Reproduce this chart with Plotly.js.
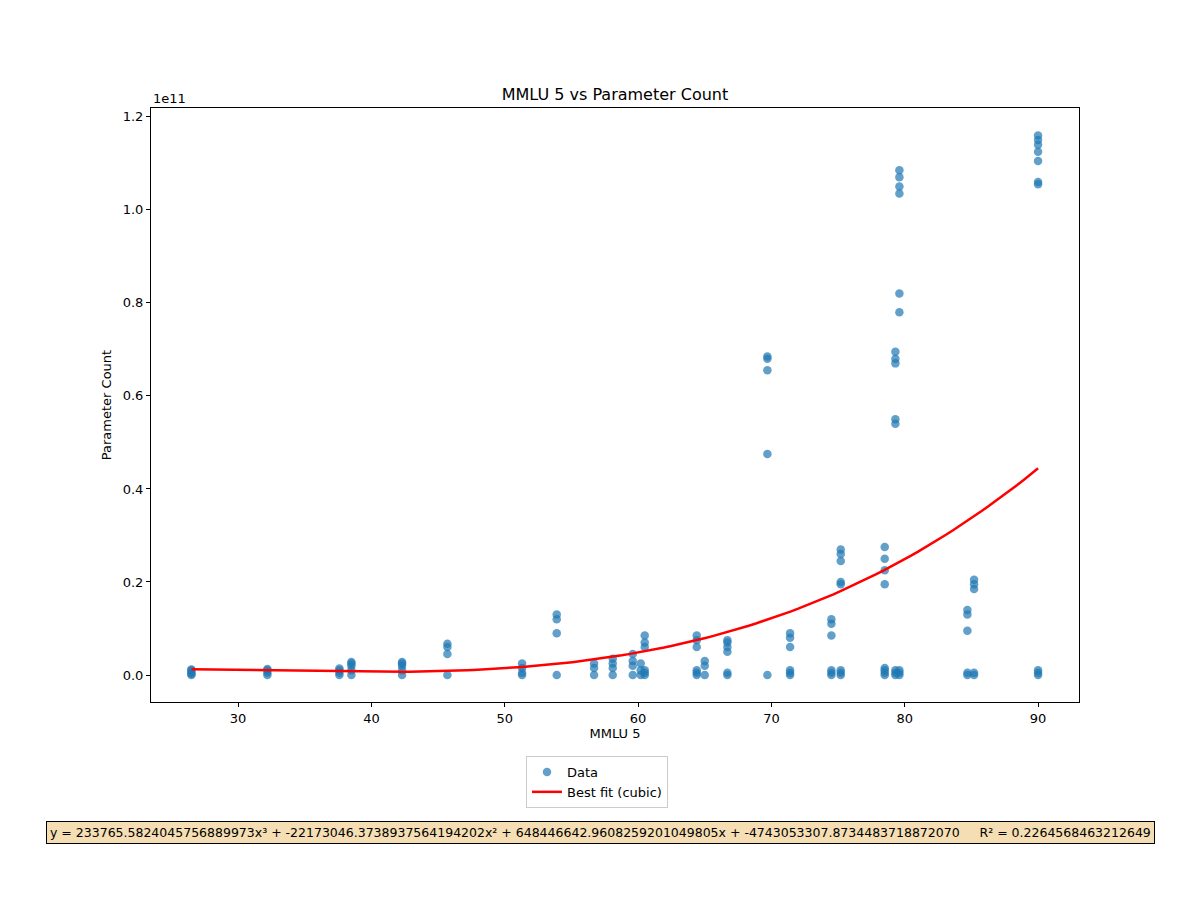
<!DOCTYPE html>
<html><head><meta charset="utf-8">
<script src="https://cdn.plot.ly/plotly-3.0.1.min.js"></script>
<style>body{margin:0;background:#fff}</style></head>
<body><div id="chart" style="width:1200px;height:900px"></div>
<script>
// MMLU 5 score of each cluster and the parameter counts (in billions) seen at that score
const mmluGroups = [26.5,32.2,37.6,38.5,42.3,45.7,51.3,53.9,56.7,58.1,59.6,60.2,60.5,64.4,65.0,66.7,69.7,71.4,74.5,75.2,78.5,79.3,79.6,84.7,85.2,90.0];
const paramGroupsB = [
 [0,0.5,1,1.2,0.3],[0,0.5,1,1.3],[0,0.5,1,1.4],[0,1,2,2.5,2.8],[0,1,2,2.5,2.8],
 [0,4.5,6,6.7],[0,0.5,1.5,2.5],[0,9,12,13],[0,1.5,2.5],[0,1.5,2.5,3.5],
 [0,2,3,4.5],[0,1,2.5],[0,0.5,1,6,7,8.5],[0,0.5,1,6,7.5,8.5],[0,2,3],
 [0,0.5,5,6,7,7.5],[0,47.5,65.5,68,68.5],[0,0.5,1,6,8,9],[0,0.5,1,8.5,11,12],
 [0,0.5,1,19.5,20,24.5,26,27],[0,0.5,1,1.5,19.5,22.5,25,27.5],[0,0.5,1,54,55,67,68,69.5],
 [0,0.5,1,78,82,103.5,105,107,108.5],[0,0.5,9.5,13,14],[0,0.5,18.5,19.5,20.5],
 [0,0.5,1,105.5,106,110.5,112.5,114,115,116]
];
// cubic fit coefficients (from the legend equation)
const fitCoeffs = [233765.5824045756889973, -22173046.3738937564194202, 648446642.9608259201049805, -4743053307.8734483718872070];
const fitRange = [26.5, 90.0];
const rSquared = "0.2264568463212649";
const yTickVals = [0,2e10,4e10,6e10,8e10,1e11,1.2e11];
const yTickText = ["0.0","0.2","0.4","0.6","0.8","1.0","1.2"];

const xs=[], ys=[];
mmluGroups.forEach((m,i)=>paramGroupsB[i].forEach(v=>{xs.push(m);ys.push(v*1e9);}));
const fx=[], fy=[];
for(let i=0;i<=120;i++){const x=fitRange[0]+(fitRange[1]-fitRange[0])*i/120;fx.push(x);
 fy.push(((fitCoeffs[0]*x+fitCoeffs[1])*x+fitCoeffs[2])*x+fitCoeffs[3]);}

const font={family:"DejaVu Sans",size:13,color:"#000"};
const eq="y = 233765.5824045756889973x³ + -22173046.3738937564194202x² + 648446642.9608259201049805x + -4743053307.8734483718872070     R² = "+rSquared;
Plotly.newPlot('chart',[
 {x:xs,y:ys,mode:'markers',type:'scatter',name:'Data',marker:{color:'#1f77b4',opacity:0.7,size:8.5}},
 {x:fx,y:fy,mode:'lines',type:'scatter',name:'Best fit (cubic)',line:{color:'red',width:2.5}}
],{
 width:1200,height:900,font:font,paper_bgcolor:'#fff',plot_bgcolor:'#fff',
 margin:{l:151,r:121,t:108,b:198,autoexpand:false},
 title:{text:'MMLU 5 vs Parameter Count',font:{family:"DejaVu Sans",size:16},x:0.5125,xanchor:'center',y:1-94/900,yanchor:'middle',yref:'container'},
 xaxis:{automargin:false,range:[23.47,93.07],tickvals:[30,40,50,60,70,80,90],showgrid:false,zeroline:false,showline:true,mirror:true,linecolor:'#000',linewidth:1,ticks:'outside',ticklen:4,tickcolor:'#000',
   title:{text:'MMLU 5',font:font,standoff:4}},
 yaxis:{automargin:false,range:[-0.58e10,12.19e10],tickvals:yTickVals,ticktext:yTickText,showgrid:false,zeroline:false,showline:true,mirror:true,linecolor:'#000',linewidth:1,ticks:'outside',ticklen:4,tickcolor:'#000',
   title:{text:'Parameter Count',font:font,standoff:8}},
 legend:{x:(597-151)/928,xanchor:'center',y:(702-756)/594,yanchor:'top',bordercolor:'#ccc',borderwidth:1,bgcolor:'#fff',font:font},
 annotations:[
  {text:'1e11',xref:'paper',yref:'paper',x:0,y:1,xanchor:'left',yanchor:'bottom',showarrow:false,font:font,yshift:0},
  {text:eq,xref:'paper',yref:'paper',x:(600-151)/928,y:(702-832)/594,xanchor:'center',yanchor:'middle',showarrow:false,
   font:{family:"DejaVu Sans",size:12.5,color:'#000'},bgcolor:'#f5deb3',bordercolor:'#000',borderwidth:1,borderpad:3}
 ]
},{displayModeBar:false});
</script></body></html>
